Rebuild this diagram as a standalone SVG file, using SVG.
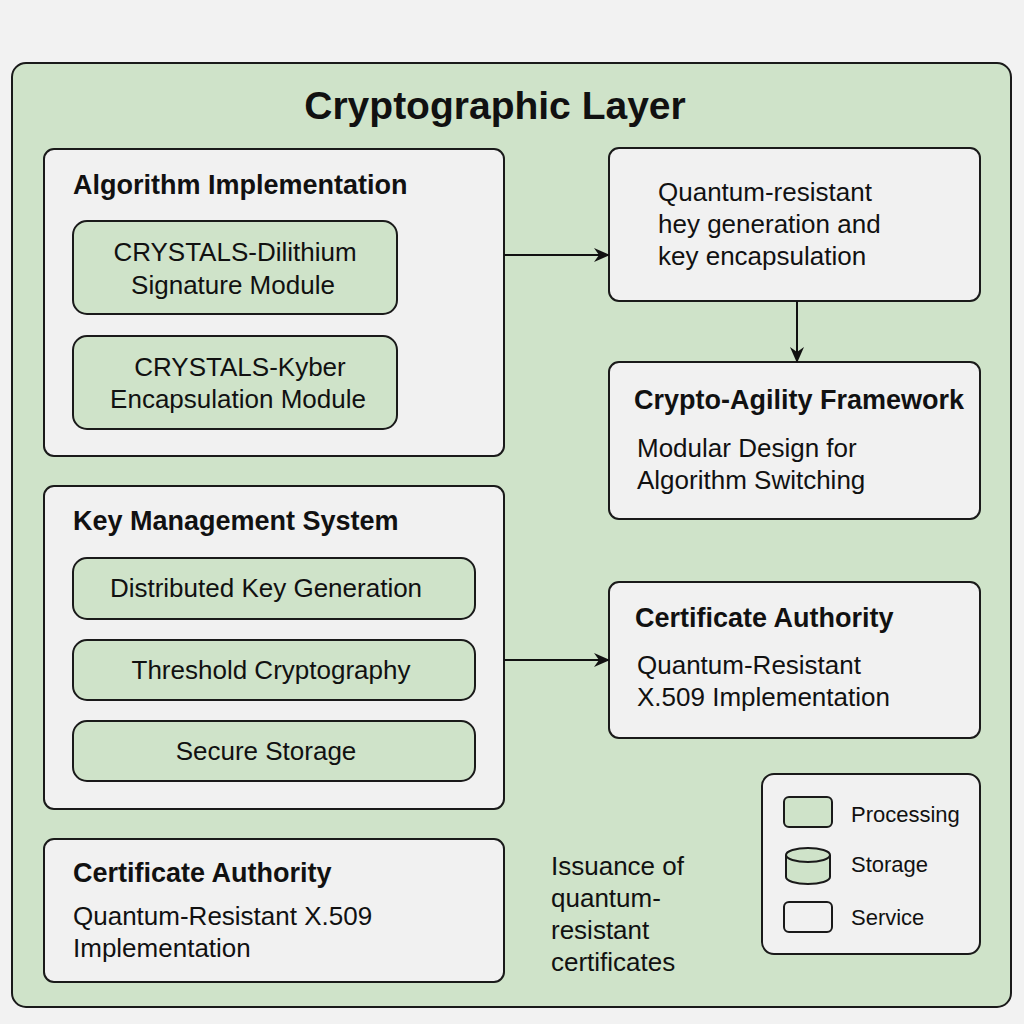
<svg xmlns="http://www.w3.org/2000/svg" width="1024" height="1024" viewBox="0 0 1024 1024">
<defs>
<style>
.bg{fill:#f2f2f2}
.layer{fill:#cfe3c9;stroke:#1a1a1a;stroke-width:2}
.svc{fill:#f1f1f1;stroke:#1a1a1a;stroke-width:2}
.proc{fill:#cfe3c9;stroke:#1a1a1a;stroke-width:2}
text{font-family:"Liberation Sans",Arial,sans-serif;fill:#111}
.t{font-size:26px}
.b{font-size:27px;font-weight:bold}
.h{font-size:39px;font-weight:bold}
.l{font-size:22px}
.c{text-anchor:middle}
.conn{stroke:#111;stroke-width:2;fill:none}
</style>
<marker id="ah" viewBox="0 0 16 16" refX="15" refY="8" markerWidth="16" markerHeight="16" markerUnits="userSpaceOnUse" orient="auto">
<path d="M0,1 L16,8 L0,15 L5,8 Z" fill="#111"/>
</marker>
</defs>
<rect class="bg" x="0" y="0" width="1024" height="1024"/>
<g id="layer">
<rect class="layer" x="12" y="63" width="999" height="944" rx="14"/>
<text class="h c" x="495" y="119">Cryptographic Layer</text>
</g>
<g id="algorithm-implementation">
<rect class="svc" x="44" y="149" width="460" height="307" rx="10"/>
<text class="b" x="73" y="194">Algorithm Implementation</text>
</g>
<g id="dilithium">
<rect class="proc" x="73" y="221" width="324" height="93" rx="14"/>
<text class="t c" x="235" y="261">CRYSTALS-Dilithium</text>
<text class="t c" x="233" y="294">Signature Module</text>
</g>
<g id="kyber">
<rect class="proc" x="73" y="336" width="324" height="93" rx="14"/>
<text class="t c" x="240" y="376">CRYSTALS-Kyber</text>
<text class="t c" x="238" y="408">Encapsulation Module</text>
</g>
<g id="key-generation">
<rect class="svc" x="609" y="148" width="371" height="153" rx="10"/>
<text class="t" x="658" y="201">Quantum-resistant</text>
<text class="t" x="658" y="233">hey generation and</text>
<text class="t" x="658" y="265">key encapsulation</text>
</g>
<g id="crypto-agility">
<rect class="svc" x="609" y="362" width="371" height="157" rx="10"/>
<text class="b" x="634" y="409">Crypto-Agility Framework</text>
<text class="t" x="637" y="457">Modular Design for</text>
<text class="t" x="637" y="489">Algorithm Switching</text>
</g>
<g id="key-management">
<rect class="svc" x="44" y="486" width="460" height="323" rx="10"/>
<text class="b" x="73" y="530">Key Management System</text>
</g>
<g id="dkg">
<rect class="proc" x="73" y="558" width="402" height="61" rx="14"/>
<text class="t c" x="266" y="597">Distributed Key Generation</text>
</g>
<g id="threshold">
<rect class="proc" x="73" y="640" width="402" height="60" rx="14"/>
<text class="t c" x="271" y="679">Threshold Cryptography</text>
</g>
<g id="secure-storage">
<rect class="proc" x="73" y="721" width="402" height="60" rx="14"/>
<text class="t c" x="266" y="760">Secure Storage</text>
</g>
<g id="ca-right">
<rect class="svc" x="609" y="582" width="371" height="156" rx="10"/>
<text class="b" x="635" y="627">Certificate Authority</text>
<text class="t" x="637" y="674">Quantum-Resistant</text>
<text class="t" x="637" y="706">X.509 Implementation</text>
</g>
<g id="ca-left">
<rect class="svc" x="44" y="839" width="460" height="143" rx="10"/>
<text class="b" x="73" y="882">Certificate Authority</text>
<text class="t" x="73" y="925">Quantum-Resistant X.509</text>
<text class="t" x="73" y="957">Implementation</text>
</g>
<g id="issuance-note">
<text class="t" x="551" y="875">Issuance of</text>
<text class="t" x="551" y="907">quantum-</text>
<text class="t" x="551" y="939">resistant</text>
<text class="t" x="551" y="971">certificates</text>
</g>
<g id="legend">
<rect class="svc" x="762" y="774" width="218" height="180" rx="12"/>
<rect class="proc" x="784" y="797" width="48" height="30" rx="5"/>
<text class="l" x="851" y="822">Processing</text>
<path class="proc" d="M786,855 L786,877 A22,7 0 0 0 830,877 L830,855"/>
<ellipse class="proc" cx="808" cy="855" rx="22" ry="7"/>
<text class="l" x="851" y="872">Storage</text>
<rect class="svc" x="784" y="902" width="48" height="30" rx="5"/>
<text class="l" x="851" y="925">Service</text>
</g>
<g id="connectors">
<line class="conn" x1="504" y1="255" x2="609" y2="255" marker-end="url(#ah)"/>
<line class="conn" x1="797" y1="301" x2="797" y2="362" marker-end="url(#ah)"/>
<line class="conn" x1="504" y1="660" x2="609" y2="660" marker-end="url(#ah)"/>
</g>
</svg>
